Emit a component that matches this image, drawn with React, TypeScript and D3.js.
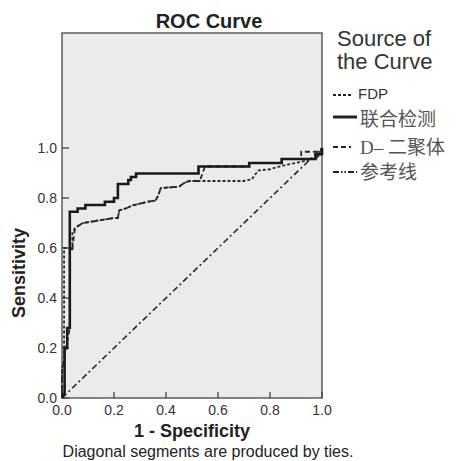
import React from 'react'
import * as d3 from 'd3'

// tick labels
const xTicks = [0, 0.2, 0.4, 0.6, 0.8, 1.0]
const yTicks = [0, 0.2, 0.4, 0.6, 0.8, 1.0]

// legend
const legendNames = ['FDP', '联合检测', 'D– 二聚体', '参考线']

// curve vertices (1 - specificity, sensitivity)
const comboX = [0, 0.01, 0.01, 0.02, 0.02, 0.03, 0.03, 0.06, 0.06, 0.09, 0.09, 0.165, 0.165, 0.2, 0.2, 0.215, 0.215, 0.255, 0.255, 0.265, 0.265, 0.285, 0.285, 0.525, 0.525, 0.72, 0.72, 0.845, 0.845, 0.975, 0.975, 1, 1]
const comboY = [0, 0.02, 0.2, 0.2, 0.28, 0.28, 0.745, 0.745, 0.758, 0.758, 0.772, 0.772, 0.785, 0.785, 0.8, 0.8, 0.856, 0.856, 0.872, 0.872, 0.884, 0.884, 0.898, 0.898, 0.926, 0.926, 0.94, 0.94, 0.956, 0.956, 0.975, 0.975, 1]

const fdpX = [0, 0, 0.008, 0.008, 0.03, 0.04, 0.04, 0.05, 0.08, 0.14, 0.2, 0.215, 0.22, 0.25, 0.27, 0.33, 0.36, 0.37, 0.38, 0.45, 0.47, 0.49, 0.7, 0.73, 0.74, 0.755, 0.8, 0.85, 0.92, 0.98, 1]
const fdpY = [0, 0.12, 0.14, 0.6, 0.6, 0.59, 0.66, 0.68, 0.7, 0.71, 0.72, 0.72, 0.75, 0.76, 0.77, 0.785, 0.79, 0.81, 0.84, 0.845, 0.86, 0.868, 0.868, 0.875, 0.89, 0.91, 0.915, 0.93, 0.945, 0.96, 1]

const ddX = [0, 0, 0.008, 0.03, 0.03, 0.04, 0.05, 0.08, 0.14, 0.2, 0.215, 0.22, 0.25, 0.27, 0.33, 0.36, 0.37, 0.38, 0.45, 0.47, 0.49, 0.53, 0.55, 0.72, 0.72, 0.845, 0.845, 0.92, 0.92, 0.985, 0.985, 1]
const ddY = [0, 0.1, 0.16, 0.28, 0.6, 0.6, 0.68, 0.7, 0.71, 0.72, 0.72, 0.75, 0.76, 0.77, 0.785, 0.79, 0.81, 0.84, 0.845, 0.86, 0.868, 0.868, 0.926, 0.926, 0.94, 0.94, 0.956, 0.956, 0.985, 0.985, 0.965, 1]

const refX = [0, 1]
const refY = [0, 1]

const sans = 'Liberation Sans, Arial, sans-serif'
const cjk = 'Noto Sans CJK SC, sans-serif'

export default function App() {
  const left = 62, right = 322, top = 33, bottom = 398
  const x = d3.scaleLinear().domain([0, 1]).range([left, right])
  const y = d3.scaleLinear().domain([0, 1]).range([bottom, 148])

  const line = d3.line<number[]>().x(d => x(d[0])).y(d => y(d[1]))
  const pts = (xs: number[], ys: number[]) => xs.map((v, i) => [v, ys[i]])

  const dashes = ['3,2', '', '5,3', '6,3,2,3']
  const widths = [1.8, 2.6, 1.8, 1.6]
  const legendY = [95, 117, 147, 172]
  const textY = [99, 126, 154, 179]
  const swatchW = [20, 24, 18, 24]

  return (
    <svg width={461} height={461} style={{ position: 'absolute', left: 0, top: 0, background: '#fff' }}>
      <text x={209} y={28} textAnchor='middle' fontFamily={sans} fontWeight='bold' fontSize={20} fill='#222'>ROC Curve</text>

      <rect x={left} y={top} width={right - left} height={bottom - top} fill='#ebebeb' stroke='#444' strokeWidth={1.3} />

      {yTicks.map(t => (
        <g key={'y' + t}>
          <line x1={left} x2={left + 7} y1={y(t)} y2={y(t)} stroke='#444' strokeWidth={1.3} />
          <text x={57} y={y(t) + 5} textAnchor='end' fontFamily={sans} fontSize={14} fill='#333'>{t.toFixed(1)}</text>
        </g>
      ))}
      {xTicks.map(t => (
        <g key={'x' + t}>
          <line x1={x(t)} x2={x(t)} y1={bottom} y2={bottom - 6} stroke='#444' strokeWidth={1.3} />
          <text x={x(t)} y={415} textAnchor='middle' fontFamily={sans} fontSize={14} fill='#333'>{t.toFixed(1)}</text>
        </g>
      ))}

      <path d={line(pts(refX, refY)) || ''} fill='none' stroke='#2a2a2a' strokeWidth={widths[3]} strokeDasharray={dashes[3]} />
      <path d={line(pts(ddX, ddY)) || ''} fill='none' stroke='#2a2a2a' strokeWidth={widths[2]} strokeDasharray={dashes[2]} />
      <path d={line(pts(fdpX, fdpY)) || ''} fill='none' stroke='#2a2a2a' strokeWidth={widths[0]} strokeDasharray={dashes[0]} />
      <path d={line(pts(comboX, comboY)) || ''} fill='none' stroke='#1a1a1a' strokeWidth={widths[1]} />

      <text transform={`translate(25,${y(0.5)}) rotate(-90)`} textAnchor='middle' fontFamily={sans} fontWeight='bold' fontSize={18} fill='#222'>Sensitivity</text>
      <text x={x(0.5)} y={437} textAnchor='middle' fontFamily={sans} fontWeight='bold' fontSize={18} fill='#222'>1 - Specificity</text>
      <text x={208} y={457} textAnchor='middle' fontFamily={sans} fontSize={16} fill='#222'>Diagonal segments are produced by ties.</text>

      <text x={337} y={46} fontFamily={sans} fontSize={22} fill='#333'>Source of</text>
      <text x={337} y={69} fontFamily={sans} fontSize={22} fill='#333'>the Curve</text>
      {legendNames.map((n, i) => (
        <g key={n}>
          <line x1={333} x2={333 + swatchW[i]} y1={legendY[i]} y2={legendY[i]} stroke='#222' strokeWidth={widths[i] + 0.4} strokeDasharray={i === 3 ? '6,2,1.5,2,1.5,2' : dashes[i]} />
          {i === 0 ? (
            <text x={358} y={textY[i]} fontFamily={sans} fontSize={15} fill='#333'>{n}</text>
          ) : i === 2 ? (
            <text x={360} y={textY[i]} fontSize={19} fill='#555'>
              <tspan fontFamily='Liberation Serif, serif'>D– </tspan>
              <tspan fontFamily={cjk}>二聚体</tspan>
            </text>
          ) : (
            <text x={360} y={textY[i]} fontFamily={cjk} fontSize={19} fill='#555'>{n}</text>
          )}
        </g>
      ))}
    </svg>
  )
}
